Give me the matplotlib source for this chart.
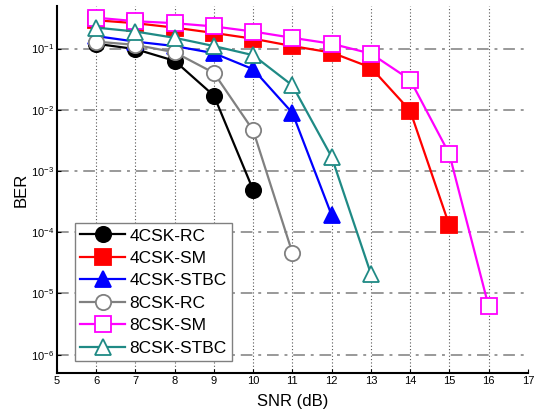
import numpy as np
import matplotlib
matplotlib.use("Agg")
import matplotlib.pyplot as plt

plt.rcParams['font.family'] = ['Liberation Sans', 'DejaVu Sans']
plt.rcParams['mathtext.fontset'] = 'custom'
plt.rcParams['mathtext.rm'] = 'Liberation Sans'
plt.rcParams['mathtext.it'] = 'Liberation Sans'

snr = [6, 7, 8, 9, 10, 11, 12, 13, 14, 15, 16]

ber_4csk_rc = [0.12, 0.098, 0.063, 0.017, 4.9e-4]
ber_4csk_sm = [0.29, 0.26, 0.22, 0.18, 0.145, 0.11, 0.086, 0.049, 9.7e-3, 1.3e-4]
ber_4csk_stbc = [0.16, 0.13, 0.11, 0.084, 0.046, 8.9e-3, 1.9e-4]
ber_8csk_rc = [0.13, 0.115, 0.087, 0.04, 4.6e-3, 4.6e-5]
ber_8csk_sm = [0.32, 0.28, 0.26, 0.23, 0.19, 0.15, 0.12, 0.083, 0.031, 1.9e-3, 6.2e-6]
ber_8csk_stbc = [0.22, 0.19, 0.15, 0.11, 0.078, 0.025, 1.7e-3, 2.1e-5]

labels = ['4CSK-RC', '4CSK-SM', '4CSK-STBC', '8CSK-RC', '8CSK-SM', '8CSK-STBC']

fig = plt.figure(figsize=(5.43, 4.15), dpi=100)
ax = fig.add_axes([0.105, 0.101, 0.867, 0.885])

ms = 11
lw = 1.6
mew = 1.3
ax.semilogy(snr[:len(ber_4csk_rc)], ber_4csk_rc, '-o', color='black', lw=lw, ms=ms, mew=mew, label=labels[0])
ax.semilogy(snr[:len(ber_4csk_sm)], ber_4csk_sm, '-s', color='red', lw=lw, ms=ms, mew=mew, label=labels[1])
ax.semilogy(snr[:len(ber_4csk_stbc)], ber_4csk_stbc, '-^', color='blue', lw=lw, ms=ms + 1, mew=mew, label=labels[2])
ax.semilogy(snr[:len(ber_8csk_rc)], ber_8csk_rc, '-o', color='gray', mfc='white', mec='gray', lw=lw, ms=ms, mew=mew, label=labels[3])
ax.semilogy(snr[:len(ber_8csk_sm)], ber_8csk_sm, '-s', color='magenta', mfc='white', mec='magenta', lw=lw, ms=ms, mew=mew, label=labels[4])
ax.semilogy(snr[:len(ber_8csk_stbc)], ber_8csk_stbc, '-^', color='#1f8a85', mfc='white', mec='#1f8a85', lw=lw, ms=ms + 1, mew=mew, label=labels[5])

ax.set_xlim(5, 17)
ax.set_ylim(5e-7, 0.5)
ax.set_xticks(range(5, 18))
ax.set_yticks([1e-1, 1e-2, 1e-3, 1e-4, 1e-5, 1e-6])
ax.minorticks_off()
ax.tick_params(direction='in', labelsize=8, length=3, pad=2)

for x in range(6, 17):
    ax.axvline(x, color='#555555', ls=(0, (1, 2)), lw=0.8, zorder=0)
for y in [1e-1, 1e-2, 1e-3, 1e-4, 1e-5, 1e-6]:
    ax.axhline(y, color='#999999', ls=(0, (6, 3, 1.5, 3)), lw=1.4, zorder=0)

ax.spines['top'].set_visible(False)
ax.spines['right'].set_visible(False)
ax.spines['left'].set_linewidth(1.5)
ax.spines['bottom'].set_linewidth(1.5)

ax.set_xlabel('SNR (dB)', fontsize=12, labelpad=6)
ax.set_ylabel('BER', fontsize=12, labelpad=2)

leg = ax.legend(loc='lower left', bbox_to_anchor=(0.038, 0.033), fontsize=12.5, fancybox=False,
                edgecolor='gray', framealpha=1, handlelength=2.6, borderpad=0.3, labelspacing=0.42,
                handletextpad=0.25, borderaxespad=0)
leg.get_frame().set_linewidth(1.0)

fig.savefig('out.png', dpi=100)
